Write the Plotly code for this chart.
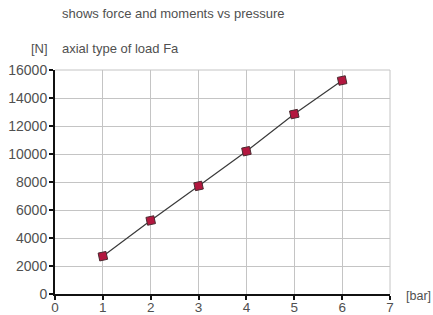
import plotly.graph_objects as go

pressure_bar = [1, 2, 3, 4, 5, 6]
force_fa_n = [2700, 5250, 7720, 10200, 12850, 15250]
x_ticks = [0, 1, 2, 3, 4, 5, 6, 7]
y_ticks = [0, 2000, 4000, 6000, 8000, 10000, 12000, 14000, 16000]

FONT = "Liberation Sans, Arial, Helvetica, sans-serif"
TXT = "#505050"

fig = go.Figure()
fig.add_trace(go.Scatter(
    x=pressure_bar, y=force_fa_n, mode="lines+markers",
    line=dict(color="#3a3a3a", width=1.2),
    marker=dict(symbol="square", size=8, angle=-12, color="#b3173f",
                line=dict(color="#4a2a30", width=1)),
    showlegend=False, cliponaxis=False,
))

axis_common = dict(
    showgrid=True, gridcolor="#c4c4c4", gridwidth=1,
    showline=True, linecolor="#111111", linewidth=2,
    ticks="outside", ticklen=4, tickwidth=1.5, tickcolor="#111111",
    zeroline=False, fixedrange=True, automargin=False,
)
fig.update_xaxes(range=[0, 7], tickmode="array", tickvals=x_ticks,
                 ticktext=[str(v) for v in x_ticks], ticklabelstandoff=-4,
                 tickfont=dict(family=FONT, size=13.5, color=TXT), **axis_common)
fig.update_yaxes(range=[0, 16000], tickmode="array", tickvals=y_ticks,
                 ticktext=[str(v) for v in y_ticks], ticklabelstandoff=-1,
                 tickfont=dict(family=FONT, size=14, color=TXT), **axis_common)

# top and right borders in grid color
fig.add_shape(type="line", xref="paper", yref="paper", x0=0, x1=1, y0=1, y1=1,
              line=dict(color="#c4c4c4", width=1), layer="below")
fig.add_shape(type="line", xref="paper", yref="paper", x0=1, x1=1, y0=0, y1=1,
              line=dict(color="#c4c4c4", width=1), layer="below")

ann = dict(xref="paper", yref="paper", showarrow=False,
           font=dict(family=FONT, size=13, color=TXT))
fig.add_annotation(text="shows force and moments vs pressure", x=0.015, y=1.254,
                   xanchor="left", yanchor="middle", **ann)
fig.add_annotation(text="[N]", x=-0.015, y=1.098, xanchor="right", yanchor="middle", **ann)
fig.add_annotation(text="axial type of load Fa", x=0.015, y=1.098,
                   xanchor="left", yanchor="middle", **ann)
fig.add_annotation(text="[bar]", x=1.042, y=-0.009, xanchor="left", yanchor="middle",
                   xref="paper", yref="paper", showarrow=False,
                   font=dict(family=FONT, size=12.5, color=TXT))

fig.update_layout(
    width=433, height=315,
    margin=dict(l=55, r=43, t=70, b=21),
    paper_bgcolor="white", plot_bgcolor="white",
    font=dict(family=FONT, color=TXT),
)
fig.write_html(
    "out.html",
    config={"displayModeBar": False},
    post_script="document.body.style.margin='0';document.body.style.overflow='hidden';",
)
